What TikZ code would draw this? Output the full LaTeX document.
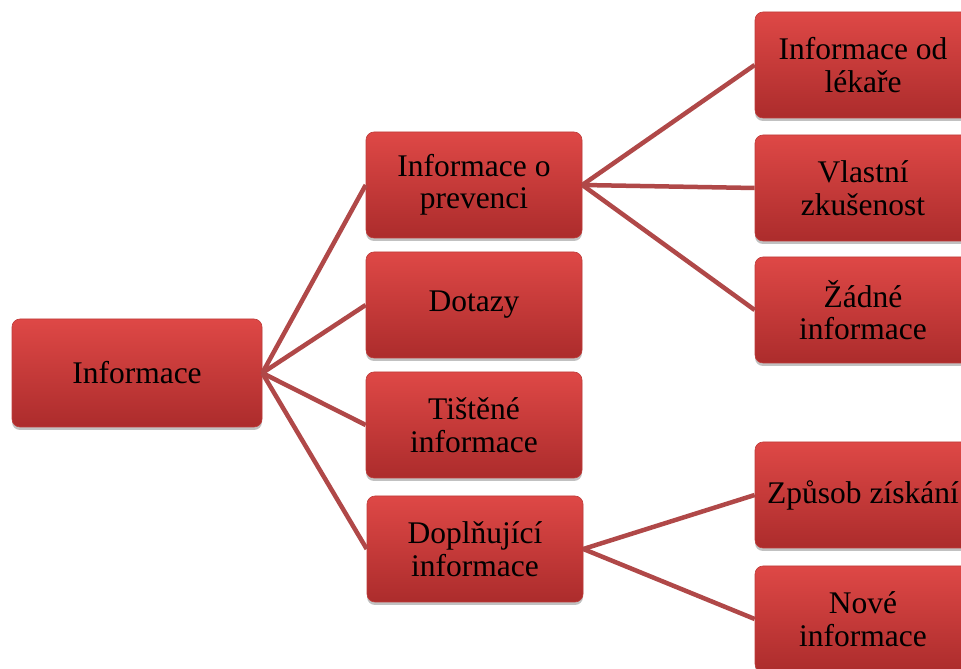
\documentclass[tikz,border=0pt]{standalone}
\usepackage{fontspec}
\setmainfont{Liberation Serif}
\usetikzlibrary{shadows}
\definecolor{boxtop}{RGB}{222,72,70}
\definecolor{boxbot}{RGB}{172,44,44}
\definecolor{boxedge}{RGB}{190,60,58}
\definecolor{linkcol}{RGB}{176,72,72}
\tikzset{
  box/.style={rectangle, rounded corners=8pt, minimum width=216pt, minimum height=106pt,
    align=center, inner sep=0pt, top color=boxtop, bottom color=boxbot,
    draw=boxedge, line width=0.6pt,
    drop shadow={opacity=0.35, shadow xshift=0pt, shadow yshift=-3pt, fill=black!70},
    font=\fontsize{31.5}{32.5}\selectfont},
  link/.style={draw=linkcol, line width=4.5pt}
}
\begin{document}
\begin{tikzpicture}[x=1pt,y=1pt]
\useasboundingbox (0,0) rectangle (961,669);
\clip (0,0) rectangle (961,669);
% root
\node[box, minimum width=250pt, minimum height=108pt] (a) at (137,296) {Informace};
% middle
\node[box] (b1) at (474,484) {Informace o\\prevenci};
\node[box] (b2) at (474,364) {Dotazy};
\node[box] (b3) at (474,244) {Tištěné\\informace};
\node[box] (b4) at (475,120) {Doplňující\\informace};
% right
\node[box] (c1) at (863,604) {Informace od\\lékaře};
\node[box] (c2) at (863,481) {Vlastní\\zkušenost};
\node[box] (c3) at (863,359) {Žádné\\informace};
\node[box] (c4) at (863,174) {Způsob získání};
\node[box] (c5) at (863,50) {Nové\\informace};
% connectors
\foreach \t in {b1,b2,b3,b4} \draw[link] (a.east) -- (\t.west);
\foreach \t in {c1,c2,c3} \draw[link] (b1.east) -- (\t.west);
\foreach \t in {c4,c5} \draw[link] (b4.east) -- (\t.west);
\end{tikzpicture}
\end{document}
